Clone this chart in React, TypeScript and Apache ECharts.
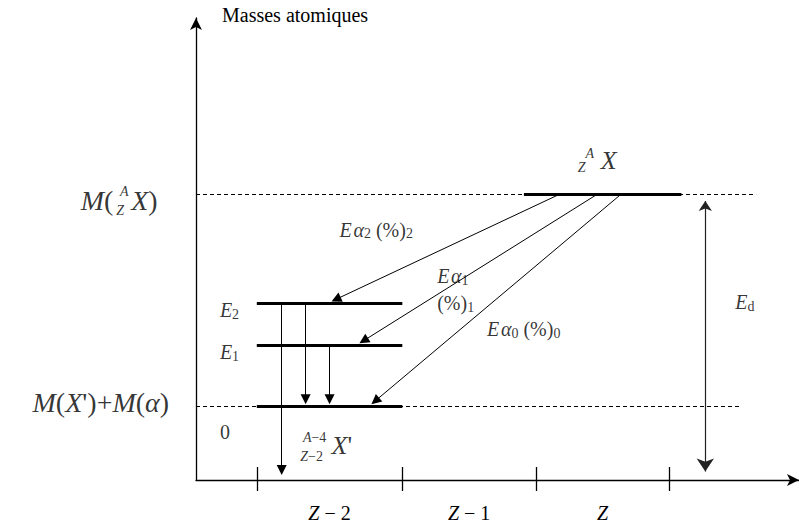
import React, { useEffect, useRef } from "react";
import * as echarts from "echarts";

// ---- Diagram data (schematic units: x = position along Z axis, y = atomic mass) ----
const levelKeys = ["parent", "E2", "E1", "ground"];
const levelMass = [286, 177, 135, 74];
const zTicks = [61, 207, 341, 475];
const zNames = ["Z − 2", "Z − 1", "Z"];
const parentLevelX = [329, 487];
const daughterLevelX = [61, 207];
const parentGuideX = [0, 562];
const groundGuideX = [0, 547];
const alphaStartX = [364, 402, 426];
const alphaEndX = [136, 164, 176];
const alphaEndLevel = [1, 2, 3];
const gammaX = [86, 110, 134];
const gammaFromLevel = [1, 1, 2];
const gammaToMass = [3, 74, 74];
const edX = 511;
const edRange = [286, 2];

const SERIF = "Liberation Serif, Times New Roman, serif";
const BLACK = "#000";

function shorten(a: number[], b: number[], d: number): number[] {
  const dx = b[0] - a[0];
  const dy = b[1] - a[1];
  const L = Math.hypot(dx, dy);
  return [b[0] - (dx / L) * d, b[1] - (dy / L) * d];
}

const rich: any = {
  i: { fontFamily: SERIF, fontStyle: "italic", fontSize: 20, lineHeight: 22, color: BLACK },
  n: { fontFamily: SERIF, fontStyle: "normal", fontSize: 20, lineHeight: 22, color: BLACK },
  s: { fontFamily: SERIF, fontStyle: "normal", fontSize: 14, lineHeight: 14, verticalAlign: "bottom", color: BLACK },
  I: { fontFamily: SERIF, fontStyle: "italic", fontSize: 28, lineHeight: 30, color: BLACK },
  N: { fontFamily: SERIF, fontStyle: "normal", fontSize: 28, lineHeight: 30, color: BLACK },
  X: { fontFamily: SERIF, fontStyle: "italic", fontSize: 26, lineHeight: 28, color: BLACK },
  XN: { fontFamily: SERIF, fontStyle: "normal", fontSize: 26, lineHeight: 28, color: BLACK },
  ti: { fontFamily: SERIF, fontStyle: "italic", fontSize: 14, lineHeight: 15, color: BLACK },
  tn: { fontFamily: SERIF, fontStyle: "normal", fontSize: 14, lineHeight: 15, color: BLACK },
};

function ann(x: number, y: number, text: string, align: string = "center") {
  return {
    value: [x, y],
    label: {
      show: true,
      position: "inside",
      formatter: text,
      align,
      verticalAlign: "middle",
      fontFamily: SERIF,
      fontSize: 20,
      color: BLACK,
      rich,
    },
  };
}

export default function App() {
  const ref = useRef<HTMLDivElement>(null);

  useEffect(() => {
    if (!ref.current) return;
    const chart = echarts.init(ref.current, undefined, { renderer: "svg" });

    const zMid = zNames.map((_, k) => (zTicks[k] + zTicks[k + 1]) / 2);

    const guides = [
      { coords: [[parentGuideX[0], levelMass[0]], [parentGuideX[1], levelMass[0]]] },
      { coords: [[groundGuideX[0], levelMass[3]], [groundGuideX[1], levelMass[3]]] },
    ];
    const levels = [
      { coords: [[parentLevelX[0], levelMass[0]], [parentLevelX[1], levelMass[0]]] },
      ...[1, 2, 3].map((k) => ({
        coords: [[daughterLevelX[0], levelMass[k]], [daughterLevelX[1], levelMass[k]]],
      })),
    ];
    const tipGap = 2;
    const half = 5;
    const alphas = alphaStartX.map((sx, k) => {
      const a = [sx, levelMass[0]];
      const b = [alphaEndX[k], levelMass[alphaEndLevel[k]] + tipGap];
      return { coords: [a, shorten(a, b, half)] };
    });
    const gammas = gammaX.map((x, k) => {
      const a = [x, levelMass[gammaFromLevel[k]]];
      const b = [x, gammaToMass[k] + tipGap];
      return { coords: [a, shorten(a, b, half)] };
    });
    const edA = [edX, edRange[0]];
    const edB = [edX, edRange[1]];
    const edHalf = 6.5;
    const ed = [{ coords: [shorten(edB, edA, edHalf), shorten(edA, edB, edHalf)] }];
    const ticks = zTicks.map((x) => ({ coords: [[x, 13], [x, -11]] }));

    const annotations = [
      // parent nucleus, left axis label M(A Z X)
      ann(-83, 280, "{I|M}{N|(}", "right"),
      ann(-72, 289, "{ti|A}"),
      ann(-76, 270, "{ti|Z}"),
      ann(-65, 280, "{I|X}{N|)}", "left"),
      // ground label
      ann(-27, 78, "{I|M}{N|(}{I|X}{N|')+}{I|M}{N|(}{I|α}{N|)}", "right"),
      ann(29, 48, "{n|0}"),
      ann(24, 170, "{i|E}{s|2}", "left"),
      ann(24, 128, "{i|E}{s|1}", "left"),
      ann(144, 251, "{i|E\u200Aα}{s|2}{n| (%)}{s|2}", "left"),
      ann(242, 204, "{i|E\u200Aα}{s|1}", "left"),
      ann(242, 177, "{n|(%)}{s|1}", "left"),
      ann(292, 151, "{i|E\u200Aα}{s|0}{n| (%)}{s|0}", "left"),
      ann(541, 178, "{i|E}{s|d}", "left"),
      // parent nucleus symbol
      ann(395, 327, "{ti|A}"),
      ann(387, 313, "{ti|Z}"),
      ann(406, 320, "{X|X}", "left"),
      // daughter nucleus symbol
      ann(119, 43, "{ti|A}{tn|−4}"),
      ann(116, 24, "{ti|Z}{tn|−2}"),
      ann(136, 35, "{X|X}{XN|'}", "left"),
    ];

    const option: any = {
      animation: false,
      backgroundColor: "#fff",
      textStyle: { fontFamily: SERIF, color: BLACK },
      grid: { left: 196, top: 18, width: 605, height: 463, containLabel: false },
      xAxis: {
        type: "value",
        min: 0,
        max: 605,
        axisLine: {
          show: true,
          onZero: false,
          symbol: ["none", "arrow"],
          symbolSize: [9, 12],
          lineStyle: { color: BLACK, width: 1.3 },
        },
        axisTick: { show: false },
        splitLine: { show: false },
        axisLabel: {
          show: true,
          customValues: zMid,
          margin: 22,
          fontFamily: SERIF,
          fontSize: 20,
          color: BLACK,
          formatter: (v: number) => {
            let best = 0;
            zMid.forEach((m, k) => {
              if (Math.abs(m - v) < Math.abs(zMid[best] - v)) best = k;
            });
            const t = zNames[best];
            return "{i|Z}{n|" + t.slice(1) + "}";
          },
          rich,
        },
      },
      yAxis: {
        type: "value",
        min: 0,
        max: 463,
        name: "Masses atomiques",
        nameLocation: "end",
        nameGap: 3,
        nameTextStyle: {
          fontFamily: SERIF,
          fontSize: 20,
          color: BLACK,
          align: "left",
          verticalAlign: "middle",
          padding: [0, 0, 0, 26],
        },
        axisLine: {
          show: true,
          onZero: false,
          symbol: ["none", "arrow"],
          symbolSize: [9, 12],
          lineStyle: { color: BLACK, width: 1.3 },
        },
        axisTick: { show: false },
        axisLabel: { show: false },
        splitLine: { show: false },
      },
      series: [
        {
          name: "guides",
          type: "lines",
          coordinateSystem: "cartesian2d",
          clip: false,
          silent: true,
          symbol: ["none", "none"],
          lineStyle: { color: BLACK, width: 1, type: [4, 3], opacity: 1 },
          data: guides,
        },
        {
          name: "levels",
          type: "lines",
          coordinateSystem: "cartesian2d",
          clip: false,
          silent: true,
          symbol: ["none", "none"],
          lineStyle: { color: BLACK, width: 3, type: "solid", opacity: 1 },
          data: levels,
        },
        {
          name: "alpha",
          type: "lines",
          coordinateSystem: "cartesian2d",
          clip: false,
          silent: true,
          symbol: ["none", "triangle"],
          symbolSize: [9, 10],
          lineStyle: { color: BLACK, width: 1, opacity: 1 },
          data: alphas,
        },
        {
          name: "gamma",
          type: "lines",
          coordinateSystem: "cartesian2d",
          clip: false,
          silent: true,
          symbol: ["none", "triangle"],
          symbolSize: [9, 10],
          lineStyle: { color: BLACK, width: 1, opacity: 1 },
          data: gammas,
        },
        {
          name: "Ed",
          type: "lines",
          coordinateSystem: "cartesian2d",
          clip: false,
          silent: true,
          symbol: ["arrow", "arrow"],
          symbolSize: [10, 13],
          lineStyle: { color: "#222", width: 1.2, opacity: 1 },
          data: ed,
        },
        {
          name: "ticks",
          type: "lines",
          coordinateSystem: "cartesian2d",
          clip: false,
          silent: true,
          symbol: ["none", "none"],
          lineStyle: { color: BLACK, width: 1.3, opacity: 1 },
          data: ticks,
        },
        {
          name: "labels",
          type: "scatter",
          clip: false,
          silent: true,
          symbolSize: 1,
          itemStyle: { color: "rgba(0,0,0,0)" },
          data: annotations,
        },
      ],
    };

    chart.setOption(option);
    return () => chart.dispose();
  }, []);

  return (
    <div
      ref={ref}
      style={{ position: "fixed", left: 0, top: 0, width: 799, height: 523, background: "#fff" }}
    />
  );
}
